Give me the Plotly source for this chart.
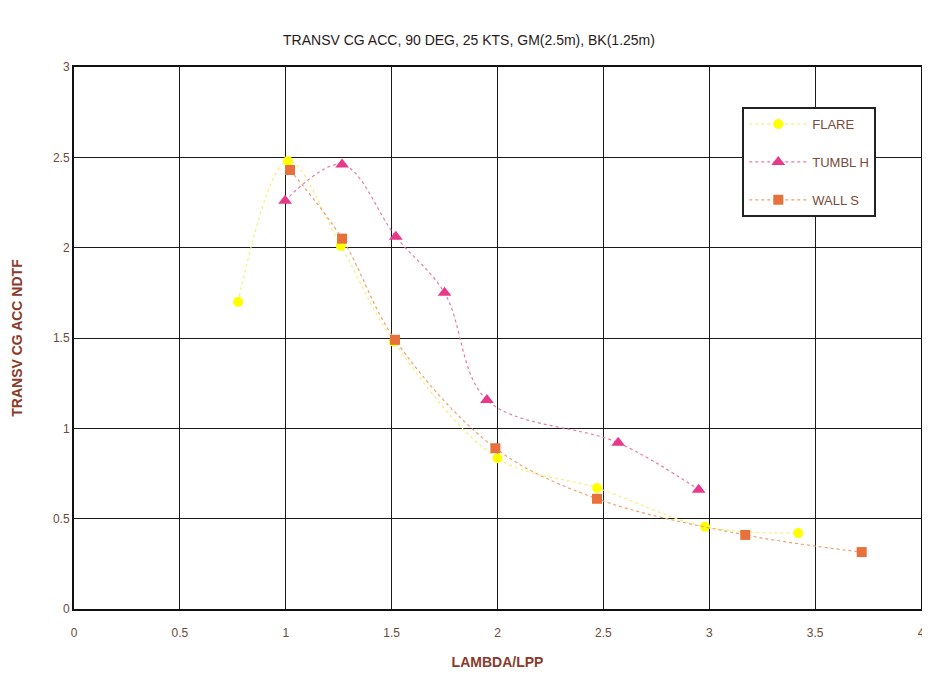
import plotly.graph_objects as go

flare_x = [0.775, 1.01, 1.26, 1.51, 2.0, 2.47, 2.98, 3.42]
flare_y = [1.70, 2.48, 2.01, 1.48, 0.835, 0.67, 0.455, 0.42]

tumbl_x = [0.997, 1.266, 1.52, 1.75, 1.95, 2.57, 2.95]
tumbl_y = [2.26, 2.46, 2.06, 1.75, 1.157, 0.92, 0.66]

wall_x = [1.02, 1.266, 1.516, 1.99, 2.47, 3.17, 3.72]
wall_y = [2.43, 2.05, 1.49, 0.89, 0.61, 0.41, 0.315]

x_ticks = [0, 0.5, 1, 1.5, 2, 2.5, 3, 3.5, 4]
x_tick_text = ["0", "0.5", "1", "1.5", "2", "2.5", "3", "3.5", "4"]
y_ticks = [0, 0.5, 1, 1.5, 2, 2.5, 3]
y_tick_text = ["0", "0.5", "1", "1.5", "2", "2.5", "3"]

fig = go.Figure()
fig.add_trace(go.Scatter(
    x=flare_x, y=flare_y, name="FLARE", mode="lines+markers", legendgroup="a",
    line=dict(color="#f5f07a", width=1.2, dash="dot", shape="spline"),
    marker=dict(symbol="circle", size=10, color="#ffff00"),
))
fig.add_trace(go.Scatter(
    x=tumbl_x, y=tumbl_y, name="TUMBL H", mode="lines+markers", legendgroup="b",
    line=dict(color="#e87aa8", width=1.2, dash="dot", shape="spline"),
    marker=dict(symbol="triangle-up", size=12, color="#e8388a"),
))
fig.add_trace(go.Scatter(
    x=wall_x, y=wall_y, name="WALL S", mode="lines+markers", legendgroup="c",
    line=dict(color="#eea070", width=1.2, dash="dot", shape="spline"),
    marker=dict(symbol="square", size=10, color="#e8703a"),
))

tick_font = dict(size=12, color="#6a4a3a")

fig.update_layout(
    width=922, height=662,
    margin=dict(l=66, r=9, t=59, b=61, autoexpand=False),
    paper_bgcolor="white", plot_bgcolor="white",
    font=dict(family="Liberation Sans, Arial", color="#5a3a30"),
    title=dict(text="TRANSV CG ACC, 90 DEG, 25 KTS, GM(2.5m), BK(1.25m)",
               x=0.5, xanchor="center", y=0.952, yanchor="middle",
               font=dict(size=14, color="#2a1a1a")),
    xaxis=dict(range=[0, 4], tickvals=x_ticks, ticktext=x_tick_text,
               showgrid=True, gridcolor="#1a1a1a", gridwidth=1,
               showline=True, linecolor="#111", linewidth=2, mirror=True,
               zeroline=False, ticks="outside", ticklen=12, tickcolor="rgba(0,0,0,0)",
               tickfont=tick_font, automargin=False,
               title=dict(text="<b>LAMBDA/LPP</b>", font=dict(size=14, color="#8a3a2a"),
                          standoff=22)),
    yaxis=dict(range=[0, 3], tickvals=y_ticks, ticktext=y_tick_text,
               showgrid=True, gridcolor="#1a1a1a", gridwidth=1,
               showline=True, linecolor="#111", linewidth=2, mirror=True,
               zeroline=False, ticks="", tickfont=tick_font, automargin=False,
               title=dict(text="<b>TRANSV CG ACC NDTF</b>", font=dict(size=14, color="#8a3a2a"),
                          standoff=27)),
    legend=dict(x=0.789, y=0.926, xanchor="left", yanchor="top",
                bgcolor="white", bordercolor="#222", borderwidth=2,
                font=dict(size=13, color="#7a4a3a"), tracegroupgap=18,
                itemwidth=58),
    showlegend=True,
)

fig.write_html("out.html")
